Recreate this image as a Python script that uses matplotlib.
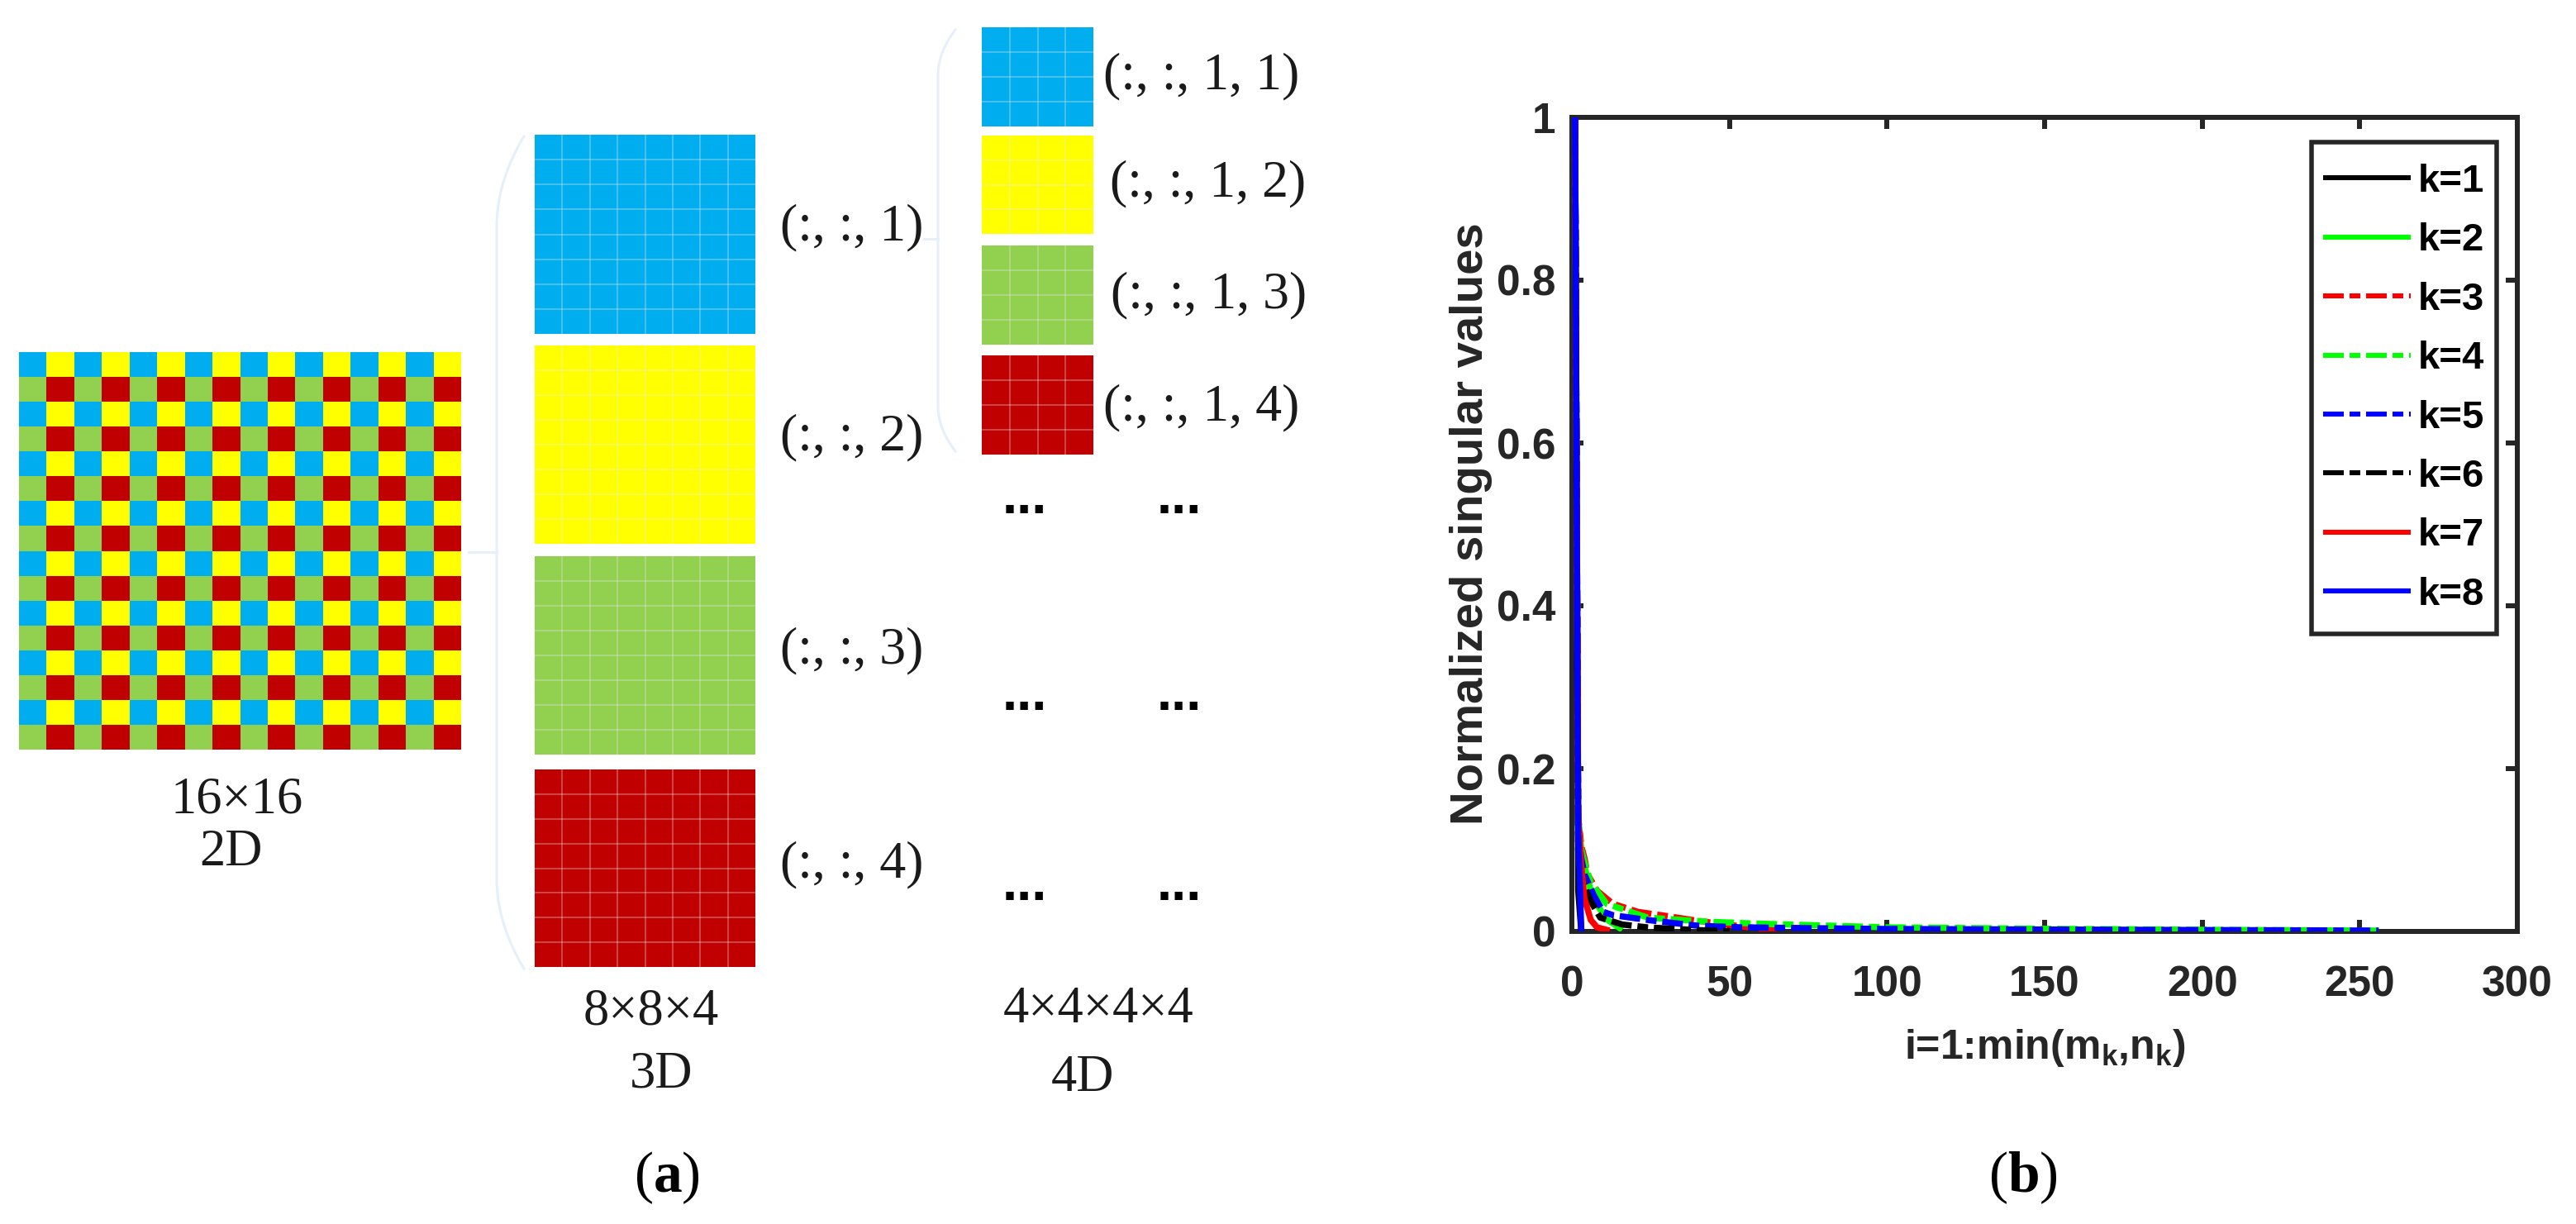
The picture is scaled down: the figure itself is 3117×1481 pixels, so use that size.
"""
Tensor reshaping diagram (a) and normalized singular value curves (b).
"""
import numpy as np
import matplotlib
matplotlib.use("Agg")
import matplotlib.pyplot as plt
from matplotlib.colors import ListedColormap
from matplotlib.patches import Rectangle

plt.rcParams["font.family"] = "Liberation Serif"
plt.rcParams["mathtext.fontset"] = "custom"
plt.rcParams["mathtext.rm"] = "Liberation Serif"
plt.rcParams["mathtext.bf"] = "Liberation Serif:bold"
plt.rcParams["mathtext.sf"] = "Liberation Sans:bold"
plt.rcParams["lines.scale_dashes"] = False

W, H = 3117, 1481
DPI = 100
PX = 72 / DPI  # one pixel in points

# --- Panel (a) ---
block_colors = ["#00AEEF", "#FFFF00", "#92D050", "#C00000"]
checker_pattern = [[0, 1], [2, 3]]
labels_3d = ["(:, :, 1)", "(:, :, 2)", "(:, :, 3)", "(:, :, 4)"]
labels_4d = ["(:, :, 1, 1)", "(:, :, 1, 2)", "(:, :, 1, 3)", "(:, :, 1, 4)"]

# --- Panel (b) ---
series_labels = ["k=1", "k=2", "k=3", "k=4", "k=5", "k=6", "k=7", "k=8"]
series_colors = ["#000000", "#00FF00", "#FF0000", "#00FF00",
                 "#0000FF", "#000000", "#FF0000", "#0000FF"]
x_k1 = [1, 2, 3]
y_k1 = [1.0, 0.05, 0.0]
x_k2 = [1, 2, 3, 4, 6, 8, 11, 16]
y_k2 = [1.0, 0.14, 0.1, 0.08, 0.05, 0.033, 0.015, 0.002]
x_k3 = [1, 2, 3, 4, 5, 8, 13, 21, 30, 40, 50, 65]
y_k3 = [1.0, 0.14, 0.105, 0.09, 0.07, 0.05, 0.034, 0.024, 0.019, 0.013, 0.008, 0.001]
x_k4 = [1, 2, 3, 4, 6, 11, 24, 43, 56, 100, 160, 200, 256]
y_k4 = [1.0, 0.13, 0.1, 0.085, 0.06, 0.034, 0.017, 0.012, 0.01, 0.005, 0.003, 0.002, 0.001]
x_k5 = [1, 2, 3, 4, 7, 10, 13, 25, 40, 54, 100, 256]
y_k5 = [1.0, 0.12, 0.09, 0.07, 0.044, 0.024, 0.02, 0.0136, 0.007, 0.005, 0.003, 0.001]
x_k6 = [1, 2, 3, 4, 6, 9, 16, 24, 38, 44, 50]
y_k6 = [1.0, 0.1, 0.07, 0.055, 0.037, 0.017, 0.0085, 0.005, 0.002, 0.001, 0.0005]
x_k7 = [1, 2, 3, 4, 6, 8, 12]
y_k7 = [1.0, 0.14, 0.08, 0.04, 0.014, 0.005, 0.001]
x_k8 = [1, 2, 3]
y_k8 = [1.0, 0.12, 0.0]
x_series = [x_k1, x_k2, x_k3, x_k4, x_k5, x_k6, x_k7, x_k8]
y_series = [y_k1, y_k2, y_k3, y_k4, y_k5, y_k6, y_k7, y_k8]
x_ticks = [0, 50, 100, 150, 200, 250, 300]
y_ticks = [0, 0.2, 0.4, 0.6, 0.8, 1]
y_tick_labels = ["0", "0.2", "0.4", "0.6", "0.8", "1"]

solid = "-"
dashdot = (0, (25 * PX, 7 * PX, 13 * PX, 7 * PX))
series_styles = [solid, solid, dashdot, dashdot, dashdot, dashdot, solid, solid]

fig = plt.figure(figsize=(W / DPI, H / DPI), dpi=DPI, facecolor="white")

# pixel-coordinate canvas for the diagram
cv = fig.add_axes([0, 0, 1, 1])
cv.set_xlim(0, W)
cv.set_ylim(H, 0)
cv.axis("off")


def block(x0, x1, y0, y1, color, n):
    cv.add_patch(Rectangle((x0, y0), x1 - x0, y1 - y0, facecolor=color, edgecolor="none"))
    xs = np.linspace(x0, x1, n + 1)[1:-1]
    ys = np.linspace(y0, y1, n + 1)[1:-1]
    cv.vlines(xs, y0, y1, color="#E8E8E8", alpha=0.3, lw=1.5)
    cv.hlines(ys, x0, x1, color="#E8E8E8", alpha=0.3, lw=1.5)


def brace(xa, xb, y0, y1, bend, stub_x, stub_y):
    t = np.linspace(0, 1, 30)
    top_x = xb + (xa - xb) * (1 - t) ** 2
    top_y = y0 + bend * t
    px = np.concatenate([top_x, top_x[::-1]])
    py = np.concatenate([top_y, (y1 - bend * t)[::-1]])
    cv.plot(px, py, color="#E6EFFA", lw=2.2)
    cv.plot([stub_x, xb], [stub_y, stub_y], color="#E6EFFA", lw=2.2)


# 2D checkerboard
checker = np.tile(np.array(checker_pattern), (8, 8))
cv.pcolormesh(np.linspace(23, 558, 17), np.linspace(426, 907, 17), checker,
              cmap=ListedColormap(block_colors), vmin=0, vmax=3)
cv.set_xlim(0, W)
cv.set_ylim(H, 0)

# 3D blocks
tops_3d = [163, 418, 673, 931]
bots_3d = [404, 658, 913, 1170]
label_y_3d = [275, 529, 787, 1046]
for c, y0, y1, lab, ly in zip(block_colors, tops_3d, bots_3d, labels_3d, label_y_3d):
    block(647, 914, y0, y1, c, 8)
    cv.text(1031, ly, lab, fontsize=46, ha="center", va="center", color="#1a1a1a")

# 4D blocks
tops_4d = [33, 164, 297, 430]
bots_4d = [153, 283, 417, 550]
label_x_4d = [1454, 1462, 1463, 1454]
label_y_4d = [92, 222, 357, 493]
for c, y0, y1, lab, lx, ly in zip(block_colors, tops_4d, bots_4d, labels_4d, label_x_4d, label_y_4d):
    block(1188, 1323, y0, y1, c, 4)
    cv.text(lx, ly, lab, fontsize=46, ha="center", va="center", color="#1a1a1a")

brace(634, 601, 165, 1172, 110, 567, 668)
brace(1156, 1135, 36, 546, 55, 1118, 289)

# ellipses standing in for the rest of the 4D slices
for y in [616, 854, 1084]:
    for x in [1240, 1427]:
        cv.text(x, y + 5, "...", fontsize=47, fontweight="bold", family="Liberation Sans",
                ha="center", va="baseline", color="black")

captions = [("16×16", 287, 969), ("2D", 279, 1032), ("8×8×4", 788, 1224), ("3D", 800, 1300),
            ("4×4×4×4", 1329, 1222), ("4D", 1310, 1305)]
for txt, x, y in captions:
    cv.text(x, y, txt, fontsize=45, ha="center", va="center", color="#1a1a1a")

cv.text(807, 1425, r"($\mathbf{a}$)", fontsize=50, ha="center", va="center", color="black")
cv.text(2448, 1425, r"($\mathbf{b}$)", fontsize=50, ha="center", va="center", color="black")

# singular value plot
ax = fig.add_axes([1902 / W, 1 - 1127 / H, (3046 - 1902) / W, (1127 - 142) / H])
ax.patch.set_alpha(0)
for xs, ys, col, ls, lab in zip(x_series, y_series, series_colors, series_styles, series_labels):
    ax.plot(xs, ys, color=col, linestyle=ls, lw=7.5 * PX, label=lab, zorder=3,
            dash_capstyle="butt", solid_capstyle="butt")

ax.set_xlim(0, 300)
ax.set_ylim(0, 1)
ax.set_xticks(x_ticks)
ax.set_yticks(y_ticks)
ax.set_yticklabels(y_tick_labels)
ax.tick_params(direction="in", top=True, right=True, length=14 * PX, width=6 * PX,
               color="#262626", labelcolor="#262626", labelsize=37)
ax.tick_params(axis="x", pad=29)
ax.tick_params(axis="y", pad=14)
for lab in ax.get_xticklabels() + ax.get_yticklabels():
    lab.set_fontfamily("Liberation Sans")
    lab.set_fontweight("bold")
for sp in ax.spines.values():
    sp.set_linewidth(6 * PX)
    sp.set_color("#262626")

ax.set_ylabel("Normalized singular values", fontsize=40.5, fontweight="bold",
              family="Liberation Sans", color="#262626")
ax.yaxis.set_label_coords((1806 - 1902) / (3046 - 1902), 0.501)
ax.set_xlabel(r"i=1:min(m$_{\mathsf{k}}$,n$_{\mathsf{k}}$)", fontsize=36, fontweight="bold",
              family="Liberation Sans", color="#262626")
ax.xaxis.set_label_coords(0.5, -0.118)

# legend box is placed on its own so its height and width can both follow the picture
ax.add_patch(Rectangle((2797, 172), 3021 - 2797, 767 - 172, transform=cv.transData,
                       facecolor="white", edgecolor="#262626", lw=5.5 * PX, zorder=4,
                       clip_on=False))
leg = ax.legend(loc="upper left", bbox_to_anchor=(2811 / W, 1 - 198 / H),
                bbox_transform=fig.transFigure, frameon=False, borderpad=0, borderaxespad=0,
                labelspacing=0.58, handlelength=2.25, handletextpad=0.19,
                prop={"family": "Liberation Sans", "weight": "bold", "size": 34})
for line in leg.get_lines():
    line.set_linewidth(6 * PX)

fig.savefig("out.png", dpi=DPI)
plt.close("all")
